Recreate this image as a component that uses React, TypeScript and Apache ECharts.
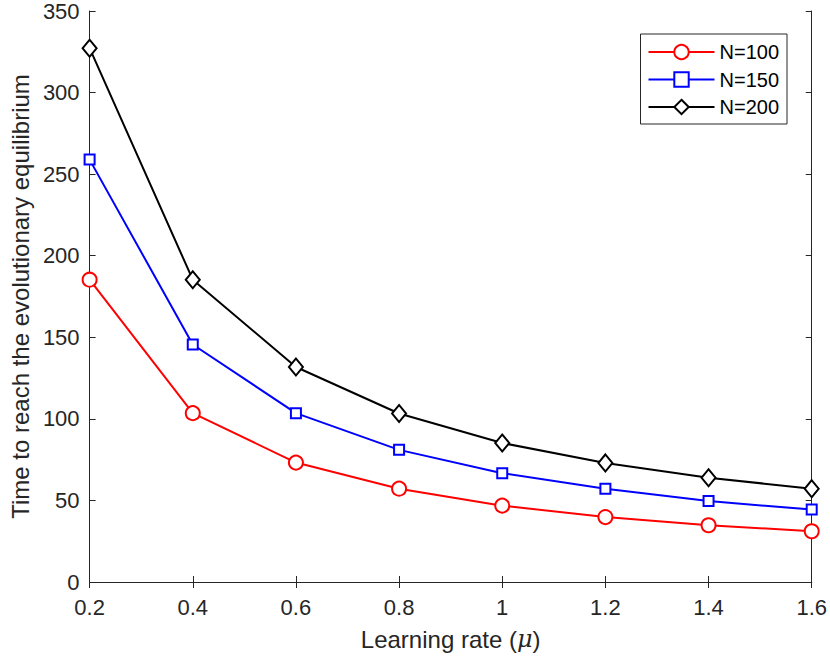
import React, { useEffect, useRef } from "react";
import * as echarts from "echarts";

const learningRates = [0.2, 0.4, 0.6, 0.8, 1.0, 1.2, 1.4, 1.6];
const n100 = [185.3, 103.5, 73.2, 57.2, 46.8, 39.8, 34.8, 31.1];
const n150 = [258.9, 145.6, 103.5, 81.0, 66.7, 57.2, 49.6, 44.4];
const n200 = [327.2, 185.3, 131.8, 103.3, 85.2, 73.0, 63.9, 57.2];
const seriesNames = ["N=100", "N=150", "N=200"];

const FONT = "Liberation Sans, Arial, Helvetica, sans-serif";
const AX = "#262626";

export default function App() {
  const ref = useRef<HTMLDivElement>(null);
  useEffect(() => {
    const chart = echarts.init(ref.current!, undefined, { renderer: "svg" });
    const mk = (vals: number[]) => learningRates.map((x, i) => [x, vals[i]]);
    const axisCommon = {
      axisLine: { show: true, lineStyle: { color: AX, width: 1 } },
      axisTick: { show: true, inside: true, length: 6, lineStyle: { color: AX, width: 1 } },
      splitLine: { show: false },
    };
    chart.setOption({
      animation: false,
      backgroundColor: "#ffffff",
      textStyle: { fontFamily: FONT },
      grid: { left: 88.5, right: 14.3, top: 8.3, bottom: 74, containLabel: false },
      legend: {
        orient: "vertical",
        right: 43,
        top: 34,
        itemWidth: 66,
        itemHeight: 18,
        itemGap: 7.5,
        padding: [8, 8, 7, 7],
        borderColor: AX,
        borderWidth: 1,
        backgroundColor: "#ffffff",
        data: seriesNames,
        textStyle: { fontSize: 20, color: "#000", fontFamily: FONT },
      },
      xAxis: [
        {
          type: "value",
          min: 0.2,
          max: 1.6,
          interval: 0.2,
          ...axisCommon,
          axisLabel: {
            fontSize: 22,
            color: AX,
            margin: 14,
            fontFamily: FONT,
            formatter: (v: number) => String(+v.toFixed(1)),
          },
          name: "Learning rate ({i|μ})",
          nameLocation: "middle",
          nameGap: 45,
          nameTextStyle: {
            fontSize: 24,
            color: AX,
            fontFamily: FONT,
            rich: { i: { fontSize: 24, fontStyle: "italic", fontFamily: "DejaVu Serif, serif", color: AX } },
          },
        },
        {
          type: "value",
          position: "top",
          min: 0.2,
          max: 1.6,
          interval: 0.2,
          ...axisCommon,
          axisLabel: { show: false },
        },
      ],
      yAxis: [
        {
          type: "value",
          min: 0,
          max: 350,
          interval: 50,
          ...axisCommon,
          axisLabel: { fontSize: 22, color: AX, margin: 10, fontFamily: FONT },
          name: "Time to reach the evolutionary equilibrium",
          nameLocation: "middle",
          nameGap: 55,
          nameTextStyle: { fontSize: 24, color: AX, fontFamily: FONT },
        },
        {
          type: "value",
          position: "right",
          min: 0,
          max: 350,
          interval: 50,
          ...axisCommon,
          axisLabel: { show: false },
        },
      ],
      series: [
        {
          name: seriesNames[0],
          type: "line",
          data: mk(n100),
          symbol: "emptyCircle",
          symbolSize: 14,
          color: "#ff0000",
          lineStyle: { color: "#ff0000", width: 2 },
          itemStyle: { color: "#ff0000", borderWidth: 2 },
        },
        {
          name: seriesNames[1],
          type: "line",
          data: mk(n150),
          symbol: "emptyRect",
          symbolSize: 10,
          color: "#0000ff",
          lineStyle: { color: "#0000ff", width: 2 },
          itemStyle: { color: "#0000ff", borderWidth: 2 },
        },
        {
          name: seriesNames[2],
          type: "line",
          data: mk(n200),
          symbol: "emptyDiamond",
          symbolSize: [14, 17],
          color: "#000000",
          lineStyle: { color: "#000000", width: 2 },
          itemStyle: { color: "#000000", borderWidth: 2 },
        },
      ],
    });
    return () => chart.dispose();
  }, []);
  return <div ref={ref} style={{ width: 830, height: 656, position: "absolute", left: 0, top: 0 }} />;
}
